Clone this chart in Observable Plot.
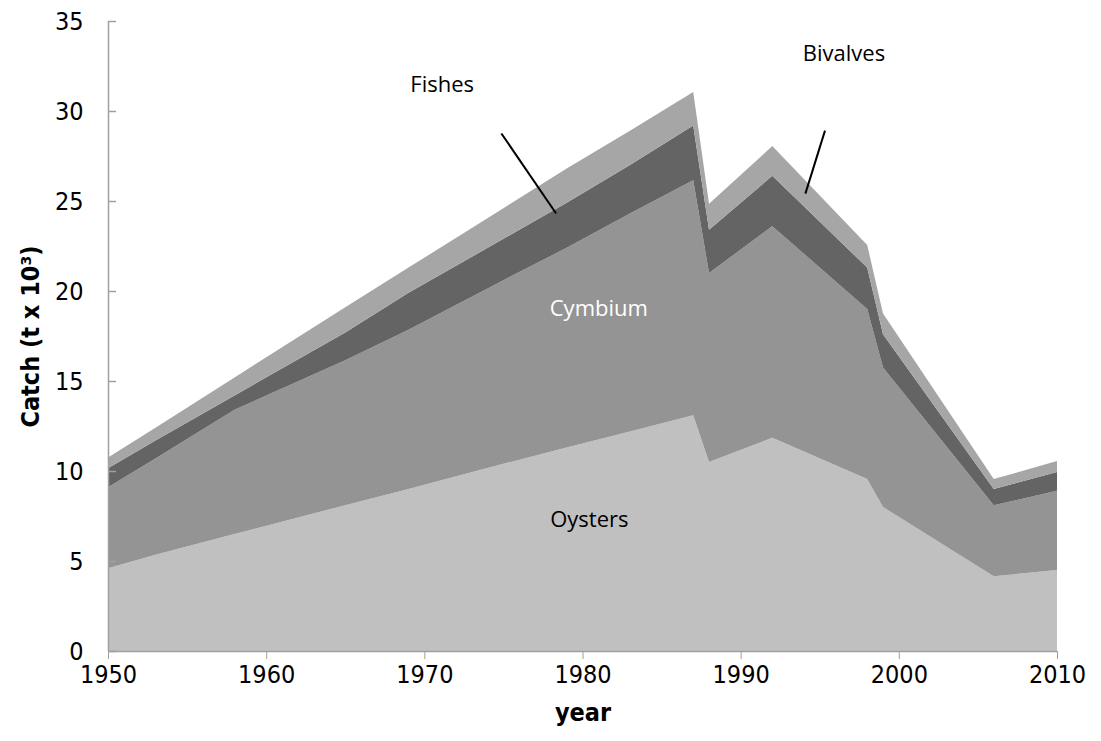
<!DOCTYPE html>
<html><head><meta charset="utf-8">
<script src="https://cdn.jsdelivr.net/npm/d3@7"></script>
<script src="https://cdn.jsdelivr.net/npm/@observablehq/plot@0.6"></script>
<style>body{margin:0;background:#fff}</style>
</head><body><div id="chart"></div>
<script>
const years    = [1950, 1953, 1958, 1965, 1969, 1975, 1979, 1983, 1987, 1988, 1992, 1998, 1999, 2006, 2010];
const oysters  = [4.6, 5.35, 6.5, 8.1, 9.0, 10.4, 11.3, 12.2, 13.1, 10.5, 11.85, 9.55, 8.0, 4.15, 4.5];
const cymbium  = [4.5, 5.35, 6.9, 8.05, 8.85, 10.2, 11.1, 12.1, 13.05, 10.5, 11.75, 9.45, 7.75, 3.95, 4.4];
const fishes   = [1.05, 1.0, 0.8, 1.55, 2.05, 2.3, 2.5, 2.7, 3.05, 2.4, 2.8, 2.3, 1.85, 0.9, 1.05];
const bivalves = [0.6, 0.7, 1.0, 1.4, 1.4, 1.7, 1.9, 1.9, 1.85, 1.45, 1.65, 1.25, 1.15, 0.55, 0.6];

const seriesNames  = ["Oysters", "Cymbium", "Fishes", "Bivalves"];
const seriesValues = [oysters, cymbium, fishes, bivalves];
const seriesColors = ["#c0c0c0", "#949494", "#646464", "#a6a6a6"];

const xTicks = [1950, 1960, 1970, 1980, 1990, 2000, 2010];
const yTicks = [0, 5, 10, 15, 20, 25, 30, 35];

const xTitle = "year";
const yTitle = "Catch (t x 10³)";

const labels = [
  {text: "Fishes",   year: 1971.1, value: 31.45, color: "#000000"},
  {text: "Bivalves", year: 1996.5, value: 33.2,  color: "#000000"},
  {text: "Cymbium",  year: 1981.0, value: 19.05, color: "#ffffff"},
  {text: "Oysters",  year: 1980.4, value: 7.3,   color: "#000000"}
];
const leaders = [
  {x1: 1974.84, y1: 28.78, x2: 1978.3, y2: 24.33},
  {x1: 1995.3,  y1: 28.94, x2: 1994.06, y2: 25.44}
];

const data = [];
seriesNames.forEach((s, i) => {
  years.forEach((yr, j) => data.push({year: yr, series: s, value: seriesValues[i][j]}));
});

const axisFont = "'DejaVu Sans Condensed', 'Liberation Sans', sans-serif";
const axisColor = "#a0a0a0";

const chart = Plot.plot({
  width: 1101,
  height: 741,
  marginLeft: 108,
  marginRight: 44,
  marginTop: 21,
  marginBottom: 90,
  style: {background: "#fff", fontFamily: axisFont},
  x: {domain: [1950, 2010], axis: null},
  y: {domain: [0, 35], axis: null},
  color: {domain: seriesNames, range: seriesColors},
  marks: [
    Plot.areaY(data, {x: "year", y: "value", fill: "series", order: seriesNames}),
    Plot.ruleX([1950], {y1: 0, y2: 35, stroke: axisColor, strokeWidth: 1.5}),
    Plot.ruleY([0], {stroke: axisColor, strokeWidth: 1.5}),
    Plot.axisX({ticks: xTicks, tickFormat: "d", tickSize: 8, tickPadding: 6, stroke: axisColor, fill: "#000", fontSize: 25, fontFamily: axisFont, label: null}),
    Plot.axisY({ticks: yTicks, tickSize: 0, tickPadding: 25, fill: "#000", fontSize: 25, fontFamily: axisFont, label: null}),
    Plot.axisY({ticks: yTicks, tickSize: -8, tickFormat: () => "", stroke: axisColor, strokeWidth: 1.5, label: null}),
    Plot.text([xTitle], {frameAnchor: "bottom", dy: 61, lineAnchor: "middle", textAnchor: "middle", fontSize: 25, fontWeight: "bold", fontFamily: axisFont, fill: "#000"}),
    Plot.text([yTitle], {frameAnchor: "left", rotate: -90, dx: -78, lineAnchor: "middle", textAnchor: "middle", fontSize: 25, fontWeight: "bold", fontFamily: axisFont, fill: "#000"}),
    Plot.link(leaders, {x1: "x1", y1: "y1", x2: "x2", y2: "y2", stroke: "#000", strokeWidth: 2}),
    Plot.text(labels, {x: "year", y: "value", text: "text", fill: "color", fontSize: 22, fontFamily: "'Open Sans', sans-serif"})
  ]
});
document.getElementById("chart").appendChild(chart);
</script>
</body></html>
